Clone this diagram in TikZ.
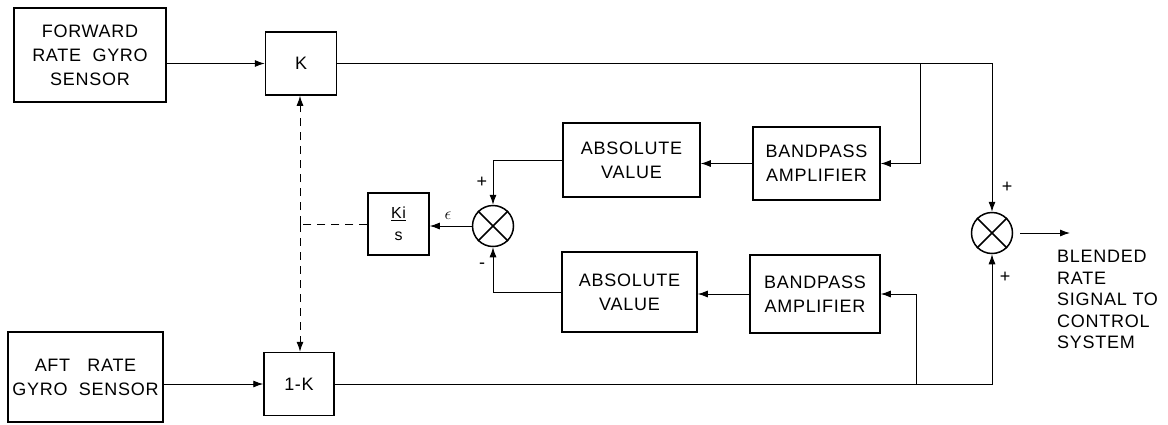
\documentclass[tikz,border=0pt]{standalone}
\usepackage{fontspec}
\setmainfont{Liberation Sans}[LetterSpace=4]
\usetikzlibrary{arrows.meta}
\begin{document}
\begin{tikzpicture}[x=1pt,y=-1pt,
  blk/.style={draw, line width=1.5pt, inner sep=0pt, align=center, font=\fontsize{18}{24}\selectfont},
  sumj/.style={draw, circle, line width=1.5pt, minimum size=41pt, inner sep=0pt},
  conn/.style={line width=0.9pt},
  arr/.style={conn, -{Latex[length=10pt,width=7pt]}},
  dsh/.style={conn, dash pattern=on 8pt off 6pt},
  dsharr/.style={dsh, -{Latex[length=10pt,width=7pt]}},
  sgn/.style={font=\fontsize{18}{18}\selectfont, inner sep=0pt},
  xmark/.style={line width=1.5pt}]
\useasboundingbox (0,0) rectangle (1168,424);

% blocks
\node[blk, minimum width=152pt, minimum height=94pt] (fwd) at (90,55) {FORWARD\\RATE~~GYRO\\SENSOR};
\node[blk, minimum width=71pt, minimum height=63pt] (K) at (301,63.5) {K};
\node[blk, minimum width=155pt, minimum height=90pt] (aft) at (85.5,377) {AFT~~~RATE\\GYRO~~SENSOR};
\node[blk, minimum width=70pt, minimum height=63pt] (omk) at (299,384) {1-K};
\node[blk, minimum width=61pt, minimum height=62pt, font=\fontsize{16}{22}\selectfont] (ki) at (398.5,224) {\underline{Ki}\\s};
\node[blk, minimum width=137pt, minimum height=74pt] (abs1) at (631.5,160) {ABSOLUTE\\VALUE};
\node[blk, minimum width=127pt, minimum height=73pt] (bp1) at (816.5,163.5) {BANDPASS\\AMPLIFIER};
\node[blk, minimum width=135pt, minimum height=80pt] (abs2) at (629.5,292) {ABSOLUTE\\VALUE};
\node[blk, minimum width=130pt, minimum height=78pt] (bp2) at (815,294) {BANDPASS\\AMPLIFIER};

% summing junctions
\node[sumj] (s1) at (493,226) {};
\node[sumj] (s2) at (992,233) {};
\draw[xmark] (s1.north east) -- (s1.south west) (s1.north west) -- (s1.south east);
\draw[xmark] (s2.north east) -- (s2.south west) (s2.north west) -- (s2.south east);

% coordinates
\coordinate (b1) at (920,63.5);
\coordinate (b2) at (916,384);
\coordinate (dj) at (300,224);
\coordinate (o1) at (1020,233);
\coordinate (out) at (1070,233);

% connectors
\draw[arr] (fwd.east |- K.west) -- (K.west);
\draw[arr] (aft.east |- omk.west) -- (omk.west);
\draw[arr] (K.east) -| (s2.north);
\draw[arr] (b1) |- (bp1.east);
\draw[arr] (bp1.west) -- (abs1.east |- bp1.west);
\draw[arr] (abs1.west) -| (s1.north);
\draw[arr] (omk.east) -| (s2.south);
\draw[arr] (b2) |- (bp2.east);
\draw[arr] (bp2.west) -- (abs2.east |- bp2.west);
\draw[arr] (abs2.west) -| (s1.south);
\draw[arr] (s1.west) -- (ki.east |- s1.west);
\draw[arr] (o1) -- (out);

% dashed gain link
\draw[dsh] (ki.west) -- (dj);
\draw[dsharr] (dj) -- (dj |- K.south);
\draw[dsharr] (dj) -- (dj |- omk.north);

% signs and labels
\node[sgn] (p1) at (482,182) {+};
\node[sgn] (m1) at (482,266) {-};
\node[sgn] (p2) at (1007,187) {+};
\node[sgn] (p3) at (1005,277) {+};
\node[font=\fontsize{16}{16}\selectfont, inner sep=0pt] (eps) at (448,216) {$\epsilon$};
\node[anchor=north west, align=left, inner sep=0pt, font=\fontsize{18}{21.5}\selectfont] (lbl) at (1057,250) {BLENDED\\RATE\\SIGNAL TO\\CONTROL\\SYSTEM};
\end{tikzpicture}
\end{document}
